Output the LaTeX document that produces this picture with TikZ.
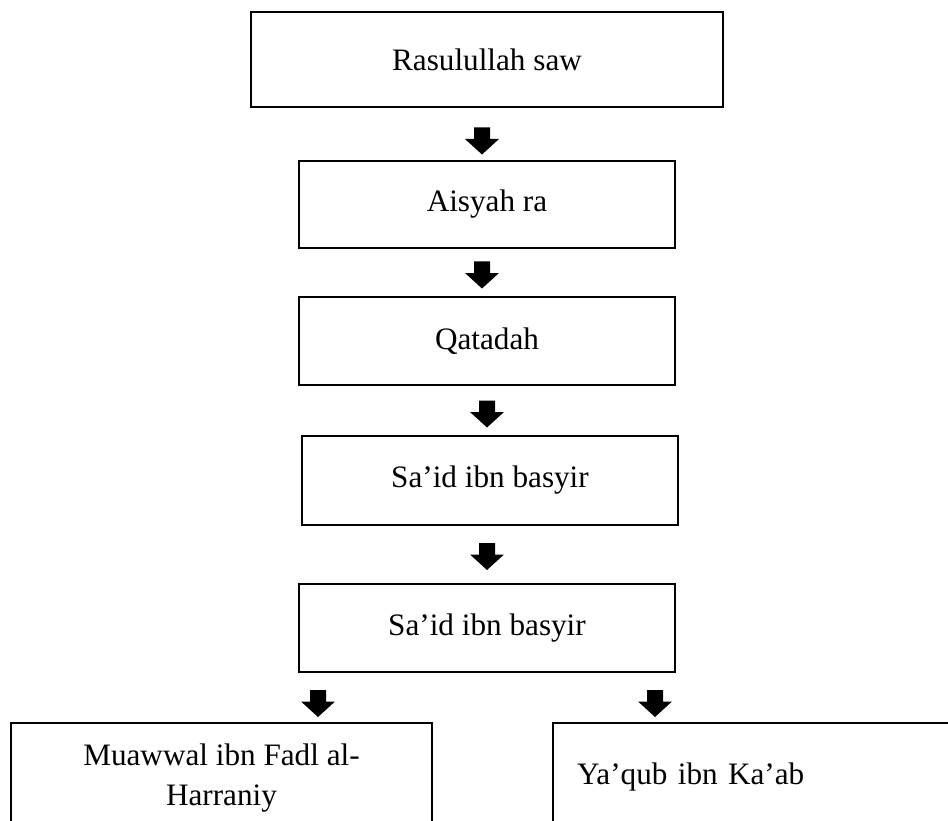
\documentclass[tikz,border=0pt]{standalone}
\usepackage{fontspec}
\setmainfont{Liberation Serif}
\begin{document}
\begin{tikzpicture}[x=1pt,y=-1pt,
  chainbox/.style={draw=black,line width=2.6pt,inner sep=0pt,
    font=\fontsize{31.2}{40}\selectfont,align=center},
  blockarrow/.pic={\fill[black] (-8,-13.5) -- (8,-13.5) -- (8,-2) -- (17,-2)
      -- (0,13.5) -- (-17,-2) -- (-8,-2) -- cycle;}]
\useasboundingbox (0,0) rectangle (948,821);
\fill[white] (0,0) rectangle (948,821);
\clip (0,0) rectangle (948,821);
% main chain
\node[chainbox,minimum width=472pt,minimum height=95pt] (rasul) at (487,59.5) {Rasulullah saw};
\node[chainbox,minimum width=376pt,minimum height=87pt] (aisyah) at (487,204.5) {Aisyah ra};
\node[chainbox,minimum width=376pt,minimum height=88pt] (qatadah) at (487,341) {Qatadah};
\node[chainbox,minimum width=376pt,minimum height=89pt] (said1) at (490,480.5) {Sa’id ibn basyir};
\node[chainbox,minimum width=376pt,minimum height=88pt] (said2) at (487,628) {Sa’id ibn basyir};
% bottom boxes (cut off by the page edge)
\node[chainbox,minimum width=421pt,minimum height=110pt] (muawwal) at (221.5,778) {Muawwal ibn Fadl al-\\Harraniy};
\node[chainbox,minimum width=410pt,minimum height=108pt,text width=362pt,align=left] (yaqub) at (758,777) {Ya’qub ibn Ka’ab};
% block arrows
\pic (a1) at (482,141) {blockarrow};
\pic (a2) at (482,275) {blockarrow};
\pic (a3) at (487,414) {blockarrow};
\pic (a4) at (487,556.5) {blockarrow};
\pic (a5) at (318,703.5) {blockarrow};
\pic (a6) at (655,703.5) {blockarrow};
\end{tikzpicture}
\end{document}
